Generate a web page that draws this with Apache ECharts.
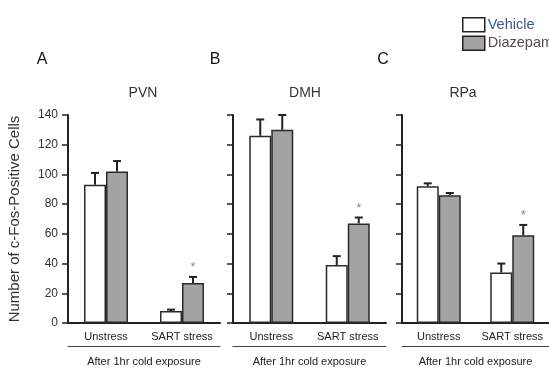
<!DOCTYPE html>
<html><head><meta charset="utf-8">
<script src="https://cdn.jsdelivr.net/npm/echarts@6/dist/echarts.min.js"></script>
<style>html,body{margin:0;padding:0;background:#fff}#c{width:549px;height:372px}</style>
</head><body><div id="c"></div>
<script>
// ---- data ----
const categories = ['Unstress', 'SART stress'];
const regionNames = ['PVN', 'DMH', 'RPa'];
const panelLetters = ['A', 'B', 'C'];
const seriesNames = ['Vehicle', 'Diazepam'];
const yTickLabels = [0, 20, 40, 60, 80, 100, 120, 140];
const groupLabel = 'After 1hr cold exposure';
const yAxisTitle = 'Number of c-Fos-Positive Cells';

const pvnVehicle = [93, 8];
const pvnVehicleErr = [8, 1];
const pvnDiazepam = [102, 27];
const pvnDiazepamErr = [7, 4];

const dmhVehicle = [126, 39];
const dmhVehicleErr = [11, 6];
const dmhDiazepam = [130, 67];
const dmhDiazepamErr = [10, 4];

const rpaVehicle = [92, 34];
const rpaVehicleErr = [2, 6];
const rpaDiazepam = [86, 59];
const rpaDiazepamErr = [1.5, 7];

const significantDiazepam = [0, 1]; // asterisk marks

// ---- layout ----
const FONT = '"Liberation Sans", Arial, sans-serif';
const grids = [
  {left: 68, top: 115, width: 152, height: 218},
  {left: 233, top: 115, width: 153, height: 218},
  {left: 402, top: 115, width: 147, height: 218}
];
const letterX = [37, 210, 378];
const titleX = [138, 300, 458];
const panelData = [
  [pvnVehicle, pvnVehicleErr, pvnDiazepam, pvnDiazepamErr],
  [dmhVehicle, dmhVehicleErr, dmhDiazepam, dmhDiazepamErr],
  [rpaVehicle, rpaVehicleErr, rpaDiazepam, rpaDiazepamErr]
];
const BAR_W = 22;
const fills = ['#ffffff', '#a3a3a3'];

function errSeries(p, means, errs, offset, sig) {
  return {
    type: 'custom', xAxisIndex: p * 2, yAxisIndex: p, z: 5, silent: true,
    data: means.map((m, i) => [i, m, errs[i], sig ? sig[i] : 0]),
    renderItem: function (params, api) {
      const base = api.coord([api.value(0), api.value(1)]);
      const top = api.coord([api.value(0), api.value(1) + api.value(2)]);
      const x = base[0] + offset;
      const children = [
        {type: 'line', shape: {x1: x, y1: base[1], x2: x, y2: top[1]}, style: {stroke: '#222', lineWidth: 2}},
        {type: 'line', shape: {x1: x - 4, y1: top[1], x2: x + 4, y2: top[1]}, style: {stroke: '#222', lineWidth: 2}}
      ];
      if (api.value(3)) {
        children.push({type: 'text', x: x, y: top[1] - 3,
          style: {text: '*', fill: '#8a8a8a', font: '13px ' + FONT, align: 'center', verticalAlign: 'bottom'}});
      }
      return {type: 'group', children: children};
    }
  };
}

const option = {
  animation: false,
  backgroundColor: '#fff',
  textStyle: {fontFamily: FONT},
  title: [].concat(
    panelLetters.map((t, i) => ({text: t, left: letterX[i], top: 47, textAlign: 'center',
      textStyle: {fontSize: 16, fontWeight: 'normal', color: '#111', fontFamily: FONT}})),
    regionNames.map((t, i) => ({text: t, left: titleX[i], top: 81, textAlign: 'center',
      textStyle: {fontSize: 14, fontWeight: 'normal', color: '#333', fontFamily: FONT}}))
  ),
  legend: {
    orient: 'vertical', left: 457, top: 12, itemWidth: 22, itemHeight: 14, itemGap: 3,
    selectedMode: false,
    data: [
      {name: seriesNames[0], icon: 'rect', itemStyle: {color: '#fff', borderColor: '#222', borderWidth: 1.5},
        textStyle: {color: '#3d5499'}},
      {name: seriesNames[1], icon: 'rect', itemStyle: {color: '#a3a3a3', borderColor: '#222', borderWidth: 1.5},
        textStyle: {color: '#5a4a4a'}}
    ],
    textStyle: {fontSize: 14.5, fontFamily: FONT, padding: [0, 0, 0, -2]}
  },
  grid: grids.map(g => Object.assign({containLabel: false}, g)),
  xAxis: [],
  yAxis: [],
  series: []
};

grids.forEach((g, p) => {
  option.xAxis.push({
    type: 'category', gridIndex: p, data: categories,
    axisLine: {lineStyle: {color: '#222', width: 2}},
    axisTick: {show: false},
    axisLabel: {color: '#222', fontSize: 11, margin: 8, fontFamily: FONT, interval: 0}
  });
  option.xAxis.push({
    type: 'category', gridIndex: p, data: categories, position: 'bottom', offset: 23,
    axisLine: {show: true, lineStyle: {color: '#444', width: 1}},
    axisTick: {show: false}, axisLabel: {show: false},
    name: groupLabel, nameLocation: 'middle', nameGap: 10,
    nameTextStyle: {fontSize: 11, color: '#222', fontFamily: FONT}
  });
  option.yAxis.push({
    type: 'value', gridIndex: p, min: 0, max: 140, interval: 20,
    splitLine: {show: false},
    axisLine: {show: true, lineStyle: {color: '#222', width: 2}},
    axisTick: {show: true, length: 6, lineStyle: {color: '#222', width: 1.5}},
    axisLabel: {show: p === 0, color: '#333', fontSize: 12, margin: 10, fontFamily: FONT,
      formatter: v => (yTickLabels.indexOf(v) >= 0 ? String(v) : '')},
    name: p === 0 ? yAxisTitle : '', nameLocation: 'middle', nameGap: 46,
    nameTextStyle: {fontSize: 15, color: '#333', fontFamily: FONT}
  });
  const d = panelData[p];
  [0, 1].forEach(s => {
    option.series.push({
      type: 'bar', name: seriesNames[s], xAxisIndex: p * 2, yAxisIndex: p,
      data: d[s * 2], barWidth: BAR_W, barGap: '0%',
      itemStyle: {color: fills[s], borderColor: '#2a2a2a', borderWidth: 1.5},
      silent: true
    });
  });
  option.series.push(errSeries(p, d[0], d[1], -BAR_W / 2, null));
  option.series.push(errSeries(p, d[2], d[3], BAR_W / 2, significantDiazepam));
});

const chart = echarts.init(document.getElementById('c'), null, {renderer: 'canvas'});
chart.setOption(option);
</script>
</body></html>
